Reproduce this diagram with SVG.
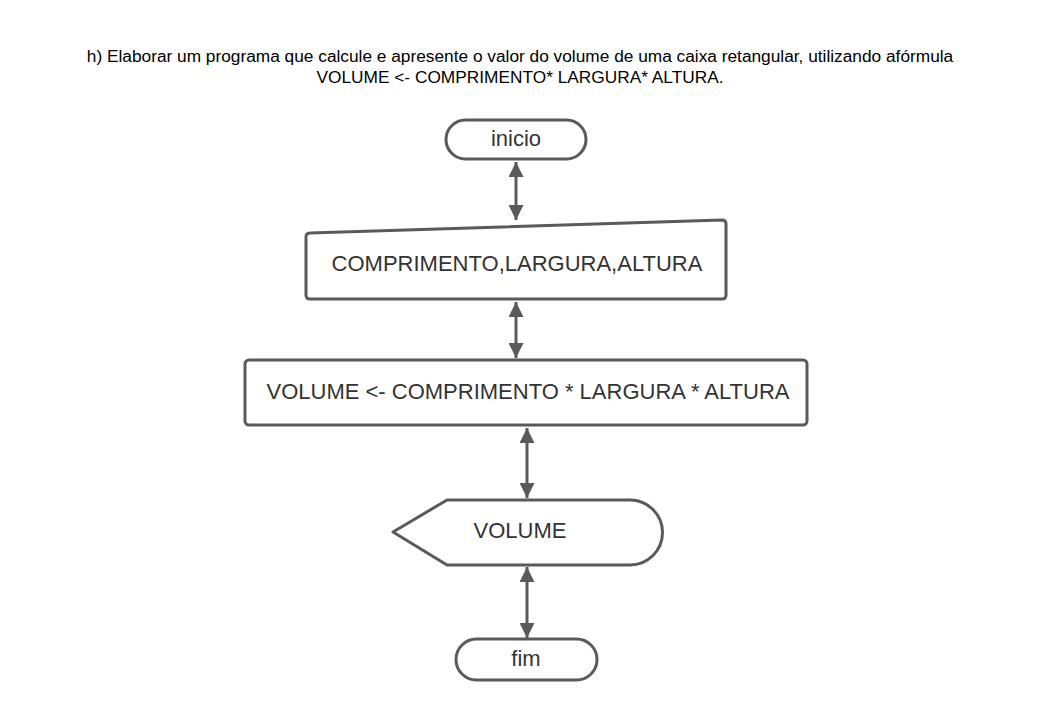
<svg xmlns="http://www.w3.org/2000/svg" width="1040" height="720" viewBox="0 0 1040 720">
<style>
.shape{fill:#fff;stroke:#5a5a5a;stroke-width:3;stroke-linejoin:round}
.lbl{font-family:"Liberation Sans",Arial,sans-serif;font-size:22px;fill:#333;text-anchor:middle}
.title{font-family:"Liberation Sans",Arial,sans-serif;font-size:17.3px;fill:#000;text-anchor:middle}
.conn{stroke:#5a5a5a;stroke-width:3;fill:none;marker-start:url(#ah);marker-end:url(#ah)}
</style>
<defs>
<marker id="ah" viewBox="0 0 10 10" refX="10" refY="5" markerWidth="5" markerHeight="5" orient="auto-start-reverse" markerUnits="strokeWidth">
<path d="M0,0 L10,5 L0,10 z" fill="#5a5a5a"/>
</marker>
</defs>
<rect width="1040" height="720" fill="#fff"/>
<g id="title">
<text class="title" x="520" y="62">h) Elaborar um programa que calcule e apresente o valor do volume de uma caixa retangular, utilizando afórmula</text>
<text class="title" x="520" y="83">VOLUME &lt;- COMPRIMENTO* LARGURA* ALTURA.</text>
</g>
<g id="connectors">
<line class="conn" x1="516" y1="162" x2="516" y2="220"/>
<line class="conn" x1="516" y1="302" x2="516" y2="358"/>
<line class="conn" x1="527" y1="428" x2="527" y2="498"/>
<line class="conn" x1="527" y1="567" x2="527" y2="638"/>
</g>
<g id="inicio">
<rect class="shape" x="446" y="120" width="140" height="39" rx="19.5"/>
<text class="lbl" x="516" y="146">inicio</text>
</g>
<g id="entrada">
<path class="shape" d="M310,233 L722,220 Q726,220 726,224 L726,295 Q726,299 722,299 L310,299 Q306,299 306,295 L306,237 Q306,233 310,233 Z"/>
<text class="lbl" x="517" y="271">COMPRIMENTO,LARGURA,ALTURA</text>
</g>
<g id="processo">
<rect class="shape" x="245" y="360" width="562" height="65" rx="4"/>
<text class="lbl" x="528" y="399">VOLUME &lt;- COMPRIMENTO * LARGURA * ALTURA</text>
</g>
<g id="saida">
<path class="shape" d="M393,532 L447,500 L630,500 A32.5,32.5 0 0 1 630,565 L447,565 Z"/>
<text class="lbl" x="520" y="538">VOLUME</text>
</g>
<g id="fim">
<rect class="shape" x="456" y="639" width="141" height="41" rx="20.5"/>
<text class="lbl" x="526" y="666">fim</text>
</g>
</svg>
